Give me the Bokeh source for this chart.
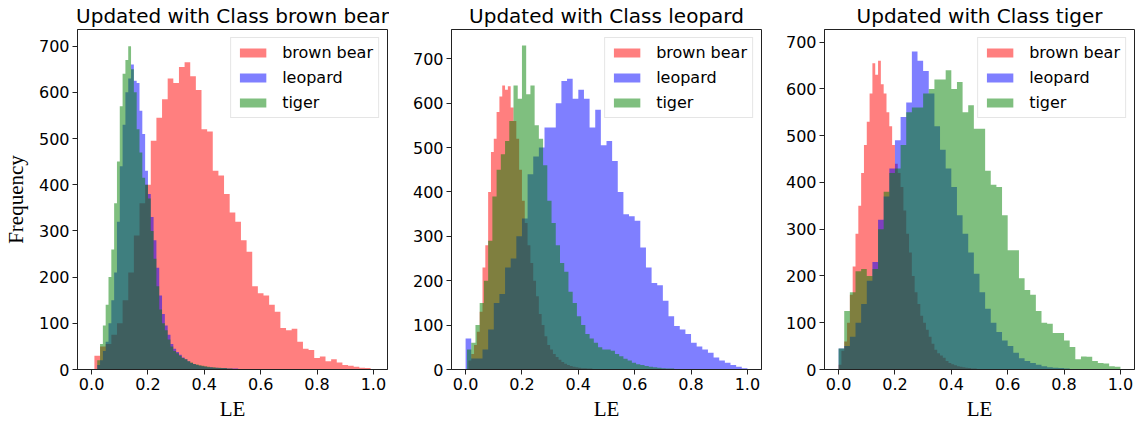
from bokeh.plotting import figure
from bokeh.layouts import row
from bokeh.models import Range1d, FixedTicker, PrintfTickFormatter
from bokeh.embed import file_html
from bokeh.resources import INLINE

# ---------------- data ----------------
CLASSES = ["brown bear", "leopard", "tiger"]
TITLES = ["Updated with Class brown bear", "Updated with Class leopard", "Updated with Class tiger"]
X_TICKS = [0.0, 0.2, 0.4, 0.6, 0.8, 1.0]
Y_TICKS = [0, 100, 200, 300, 400, 500, 600, 700]
X_LABEL = "LE"
Y_LABEL = "Frequency"

# Panel 1: updated with class brown bear  (bin start, bin width, counts)
P1_BEAR_START, P1_BEAR_WIDTH = 0.01, 0.02
P1_BEAR = [30, 50, 55, 75, 100, 150, 210, 290, 360, 400, 495, 545, 585, 630, 620,
           655, 665, 635, 605, 520, 515, 430, 420, 380, 340, 320, 280, 255, 180, 165,
           160, 140, 125, 90, 85, 88, 60, 45, 42, 25, 28, 18, 22, 15, 10, 8, 6, 4, 3]
P1_LEOPARD_START, P1_LEOPARD_WIDTH = 0.02, 0.01
P1_LEOPARD = [10, 20, 40, 60, 100, 150, 210, 320, 440, 530, 600, 630, 660, 625, 620,
              560, 510, 430, 380, 330, 280, 220, 160, 120, 95, 75, 55, 45, 38, 32,
              26, 22, 18, 14, 12, 10, 8, 7, 6, 5, 5, 4, 4, 3, 3, 3, 2, 2, 2, 2]
P1_TIGER_START, P1_TIGER_WIDTH = 0.02, 0.01
P1_TIGER = [20, 55, 95, 140, 200, 260, 360, 450, 570, 640, 670, 700, 650, 600, 520,
            470, 415, 400, 370, 300, 240, 180, 130, 100, 85, 65, 50, 40, 35, 30,
            25, 22, 18, 15, 12, 11, 9, 8, 7, 6, 5, 5, 4, 4, 3, 3, 2, 2]

# Panel 2: updated with class leopard
P2_BEAR_START, P2_BEAR_WIDTH = 0.01, 0.01
P2_BEAR = [20, 35, 55, 85, 130, 230, 280, 400, 490, 520, 580, 615, 640, 630, 638,
           590, 560, 520, 450, 380, 330, 280, 240, 200, 165, 125, 100, 75, 55, 45,
           35, 28, 22, 17, 13, 10, 8, 6, 5, 4, 3, 3, 2, 2, 1]
P2_LEOPARD_START, P2_LEOPARD_WIDTH = 0.0, 0.02
P2_LEOPARD = [70, 25, 25, 45, 90, 150, 170, 230, 250, 300, 340, 440, 480, 500, 545,
              545, 600, 650, 655, 610, 630, 610, 545, 585, 505, 515, 470, 400, 350, 345,
              335, 275, 230, 195, 190, 155, 120, 98, 90, 80, 60, 52, 45, 38, 27,
              20, 15, 10, 6, 3]
P2_TIGER_START, P2_TIGER_WIDTH = 0.005, 0.015
P2_TIGER = [45, 60, 100, 150, 200, 290, 390, 450, 485, 515, 560, 640, 610, 730, 620,
            640, 550, 520, 460, 380, 330, 280, 240, 220, 175, 150, 120, 100, 80, 70,
            60, 50, 45, 45, 42, 35, 30, 24, 20, 15, 12, 10, 8, 6, 5, 4, 3, 2, 2, 1]

# Panel 3: updated with class tiger
P3_BEAR_START, P3_BEAR_WIDTH = 0.0, 0.01
P3_BEAR = [10, 40, 60, 100, 160, 220, 290, 350, 420, 480, 530, 590, 655, 630, 660,
           610, 590, 550, 520, 480, 440, 420, 390, 340, 290, 250, 200, 165, 140, 115,
           100, 85, 70, 55, 42, 35, 30, 25, 18, 14, 11, 9, 7, 6, 5, 4, 3, 2, 2, 1]
P3_LEOPARD_START, P3_LEOPARD_WIDTH = 0.0, 0.02
P3_LEOPARD = [45, 50, 70, 100, 140, 190, 230, 320, 370, 430, 490, 540, 571, 680, 660,
              638, 590, 520, 470, 430, 390, 330, 290, 250, 205, 165, 130, 100, 80, 62,
              50, 36, 24, 18, 14, 10, 7, 5, 4, 3, 2]
P3_TIGER_START, P3_TIGER_WIDTH = 0.0, 0.02
P3_TIGER = [45, 125, 165, 210, 215, 200, 215, 300, 380, 420, 430, 480, 550, 560, 560,
            590, 600, 620, 620, 640, 600, 615, 550, 565, 515, 515, 425, 395, 390, 330,
            255, 255, 195, 170, 160, 125, 100, 98, 78, 78, 62, 48, 22, 28, 27,
            18, 14, 13, 7, 6]

Y_MAX = [736, 766, 727]

PANELS = [
    [(P1_BEAR_START, P1_BEAR_WIDTH, P1_BEAR), (P1_LEOPARD_START, P1_LEOPARD_WIDTH, P1_LEOPARD), (P1_TIGER_START, P1_TIGER_WIDTH, P1_TIGER)],
    [(P2_BEAR_START, P2_BEAR_WIDTH, P2_BEAR), (P2_LEOPARD_START, P2_LEOPARD_WIDTH, P2_LEOPARD), (P2_TIGER_START, P2_TIGER_WIDTH, P2_TIGER)],
    [(P3_BEAR_START, P3_BEAR_WIDTH, P3_BEAR), (P3_LEOPARD_START, P3_LEOPARD_WIDTH, P3_LEOPARD), (P3_TIGER_START, P3_TIGER_WIDTH, P3_TIGER)],
]

# ---------------- styles ----------------
COLORS = ["#ff0000", "#0000ff", "#008000"]
SANS = "DejaVu Sans"
SERIF = "Liberation Serif"
BORDERS = [(71, 2), (62, 2), (61, 3)]
FRAME_W, FRAME_H = 310, 340


def step_outline(start, width, counts):
    """Histogram outline (one polygon) from bin edges and counts."""
    xs, ys = [start], [0]
    for k, c in enumerate(counts):
        xs += [start + k * width, start + (k + 1) * width]
        ys += [c, c]
    xs.append(start + len(counts) * width)
    ys.append(0)
    return xs, ys


def make_panel(i):
    left_b, right_b = BORDERS[i]
    p = figure(frame_width=FRAME_W, frame_height=FRAME_H,
               x_range=Range1d(-0.05, 1.05), y_range=Range1d(0, Y_MAX[i]),
               output_backend="svg", toolbar_location=None,
               min_border_left=left_b, min_border_right=right_b,
               min_border_top=0, min_border_bottom=0, title=TITLES[i])
    p.title.text_font = SANS
    p.title.text_font_size = "20px"
    p.title.text_font_style = "normal"
    p.title.text_color = "black"
    p.title.align = "center"
    p.title.standoff = 3

    for (start, width, counts), name, color in zip(PANELS[i], CLASSES, COLORS):
        xs, ys = step_outline(start, width, counts)
        p.patch(xs, ys, fill_color=color, fill_alpha=0.5, line_color=None,
                legend_label=name)

    p.grid.visible = False
    p.outline_line_color = "#222222"
    p.outline_line_width = 1
    p.background_fill_color = "white"
    p.border_fill_color = "white"

    p.xaxis.ticker = FixedTicker(ticks=X_TICKS)
    p.xaxis.formatter = PrintfTickFormatter(format="%.1f")
    p.yaxis.ticker = FixedTicker(ticks=Y_TICKS)
    for ax in (p.xaxis, p.yaxis):
        ax.major_label_text_font = SANS
        ax.major_label_text_font_size = "16px"
        ax.major_label_text_color = "black"
        ax.major_tick_out = 5
        ax.major_tick_in = 0
        ax.minor_tick_out = 0
        ax.minor_tick_in = 0
        ax.axis_line_color = "#222222"
        ax.major_tick_line_color = "#222222"
        ax.major_label_standoff = 3
        ax.axis_label_text_font = SERIF
        ax.axis_label_text_font_size = "21px"
        ax.axis_label_text_font_style = "normal"
        ax.axis_label_text_color = "black"
    p.xaxis.axis_label = X_LABEL
    p.xaxis.axis_label_standoff = 4
    if i == 0:
        p.yaxis.axis_label = Y_LABEL
        p.yaxis.axis_label_standoff = 8

    lg = p.legend[0]
    lg.location = "top_right"
    lg.margin = 8
    lg.padding = 5
    lg.spacing = 6
    lg.glyph_width = 33
    lg.glyph_height = 11
    lg.label_standoff = 13
    lg.label_height = 18
    lg.label_text_font = SANS
    lg.label_text_font_size = "16px"
    lg.label_text_color = "black"
    lg.border_line_color = "#cccccc"
    lg.border_line_width = 1
    lg.background_fill_alpha = 0.8
    return p


figs = [make_panel(i) for i in range(3)]
layout = row(*figs, spacing=0)
open("out.html", "w").write(file_html(layout, INLINE))
